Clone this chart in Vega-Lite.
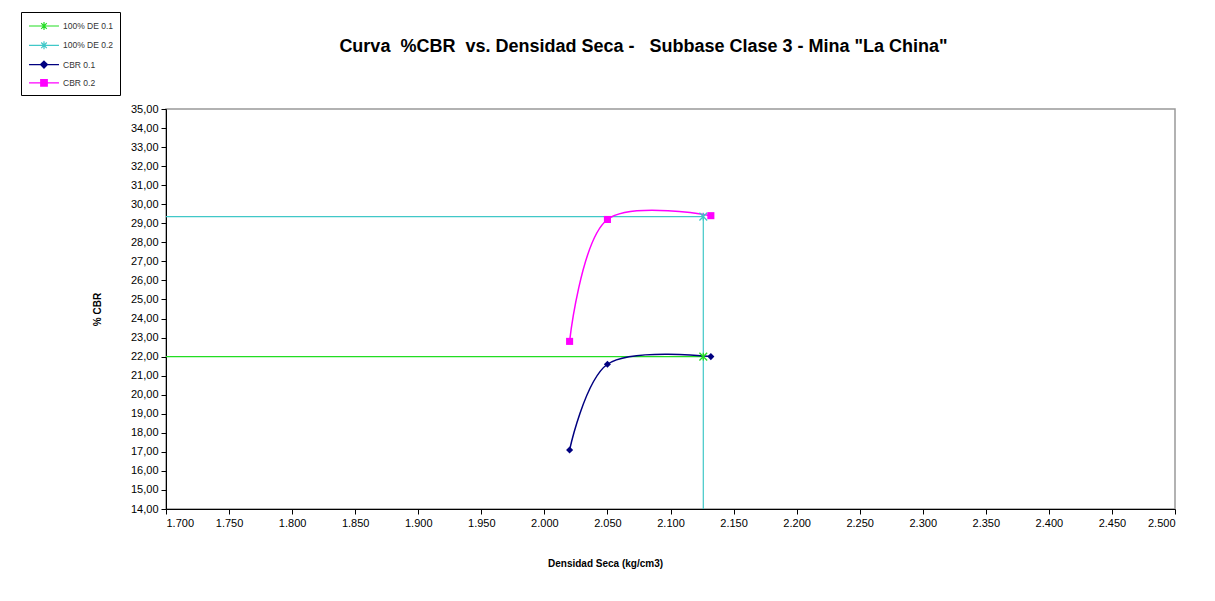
{
  "$schema": "https://vega.github.io/schema/vega-lite/v6.json",
  "autosize": {"type": "none"},
  "width": 1009,
  "height": 400,
  "padding": {"left": 166, "top": 109, "right": 40, "bottom": 92},
  "background": "white",
  "title": {
    "text": "Curva \u00a0%CBR \u00a0vs. Densidad Seca - \u00a0\u00a0Subbase Clase 3 - Mina \"La China\"",
    "font": "Liberation Sans",
    "fontSize": 18,
    "fontWeight": "bold",
    "color": "#000000",
    "anchor": "middle",
    "dx": -27,
    "offset": -44
  },
  "datasets": {
    "de": [
      {"series": "100% DE 0.1", "idx": 0, "densidad": 1.7, "cbr": 22.0},
      {"series": "100% DE 0.1", "idx": 1, "densidad": 2.126, "cbr": 22.0},
      {"series": "100% DE 0.2", "idx": 0, "densidad": 1.7, "cbr": 29.35},
      {"series": "100% DE 0.2", "idx": 1, "densidad": 2.126, "cbr": 29.35},
      {"series": "100% DE 0.2", "idx": 2, "densidad": 2.126, "cbr": 14.0}
    ],
    "cbr": [
      {"series": "CBR 0.1", "densidad": 2.02, "cbr": 17.1},
      {"series": "CBR 0.1", "densidad": 2.05, "cbr": 21.6},
      {"series": "CBR 0.1", "densidad": 2.132, "cbr": 22.0},
      {"series": "CBR 0.2", "densidad": 2.02, "cbr": 22.8},
      {"series": "CBR 0.2", "densidad": 2.05, "cbr": 29.2},
      {"series": "CBR 0.2", "densidad": 2.132, "cbr": 29.4}
    ],
    "legend": [
      {"series": "100% DE 0.1", "densidad": 2.126, "cbr": 22.0},
      {"series": "100% DE 0.2", "densidad": 2.126, "cbr": 29.35},
      {"series": "CBR 0.1", "densidad": 2.132, "cbr": 22.0},
      {"series": "CBR 0.2", "densidad": 2.132, "cbr": 29.4}
    ]
  },
  "encoding": {
    "x": {
      "field": "densidad", "type": "quantitative",
      "scale": {"domain": [1.7, 2.5], "nice": false, "zero": false},
      "axis": {
        "values": [1.7, 1.75, 1.8, 1.85, 1.9, 1.95, 2.0, 2.05, 2.1, 2.15, 2.2, 2.25, 2.3, 2.35, 2.4, 2.45, 2.5],
        "format": ".3f",
        "title": "Densidad Seca (kg/cm3)",
        "titleX": 439, "titleY": 54, "titleBaseline": "middle", "titleAnchor": "middle", "titleAlign": "center"
      }
    },
    "y": {
      "field": "cbr", "type": "quantitative",
      "scale": {"domain": [14, 35], "nice": false, "zero": false},
      "axis": {
        "values": [14,15,16,17,18,19,20,21,22,23,24,25,26,27,28,29,30,31,32,33,34,35],
        "labelExpr": "replace(format(datum.value, '.2f'), '.', ',')",
        "title": "% CBR",
        "titleX": -69, "titleY": 200, "titleBaseline": "middle", "titleAngle": -90, "titleAlign": "center"
      }
    },
    "color": {
      "field": "series", "type": "nominal", "legend": null,
      "scale": {
        "domain": ["100% DE 0.1", "100% DE 0.2", "CBR 0.1", "CBR 0.2"],
        "range": ["#22DD22", "#40C8C8", "#000080", "#FF00FF"]
      }
    }
  },
  "layer": [
    {
      "data": {"name": "de"},
      "mark": {"type": "line", "strokeWidth": 1.2, "interpolate": "linear"},
      "encoding": {"order": {"field": "idx", "type": "quantitative"}}
    },
    {
      "data": {"name": "cbr"},
      "mark": {"type": "line", "strokeWidth": 1.5, "interpolate": "catmull-rom"}
    },
    {
      "data": {"name": "de"},
      "transform": [{"filter": "datum.idx == 1"}],
      "mark": {"type": "point", "filled": false, "size": 60, "strokeWidth": 1.3, "opacity": 1},
      "encoding": {
        "shape": {"field": "series", "type": "nominal", "legend": null,
          "scale": {"domain": ["100% DE 0.1", "100% DE 0.2"], "range": ["M-1,-1L1,1M-1,1L1,-1M0,-1L0,1", "M-1,-1L1,1M-1,1L1,-1M0,-1L0,1"]}}
      }
    },
    {
      "data": {"name": "cbr"},
      "mark": {"type": "point", "filled": true, "size": 50, "opacity": 1},
      "encoding": {
        "shape": {"field": "series", "type": "nominal", "legend": null,
          "scale": {"domain": ["CBR 0.1", "CBR 0.2"], "range": ["diamond", "square"]}}
      }
    },
    {
      "data": {"name": "legend"},
      "mark": {"type": "point", "filled": false, "opacity": 0, "strokeWidth": 1.2},
      "encoding": {
        "stroke": {
          "field": "series", "type": "nominal",
          "scale": {
            "domain": ["100% DE 0.1", "100% DE 0.2", "CBR 0.1", "CBR 0.2"],
            "range": ["#22DD22", "#40C8C8", "#000080", "#FF00FF"]
          },
          "legend": {
            "title": null, "orient": "none", "legendX": -145, "legendY": -97,
            "strokeColor": "#000000", "padding": 6,
            "symbolSize": 196, "symbolOffset": 9, "symbolOpacity": 1, "symbolStrokeWidth": 1.2,
            "labelFont": "Liberation Sans", "labelFontSize": 8.5, "labelColor": "#333333",
            "labelOffset": 11, "rowPadding": 4.3
          }
        },
        "shape": {
          "field": "series", "type": "nominal",
          "scale": {
            "domain": ["100% DE 0.1", "100% DE 0.2", "CBR 0.1", "CBR 0.2"],
            "range": [
              "M-2.14,0L2.14,0M-0.4,-0.4L0.4,0.4M-0.4,0.4L0.4,-0.4M0,-0.57L0,0.57",
              "M-2.14,0L2.14,0M-0.4,-0.4L0.4,0.4M-0.4,0.4L0.4,-0.4M0,-0.57L0,0.57",
              "M-2.14,0L2.14,0M0,-0.5L0.5,0L0,0.5L-0.5,0ZM0,-0.33L0.33,0L0,0.33L-0.33,0ZM0,-0.16L0.16,0L0,0.16L-0.16,0Z",
              "M-2.14,0L2.14,0M-0.47,-0.47L0.47,-0.47L0.47,0.47L-0.47,0.47ZM-0.31,-0.31L0.31,-0.31L0.31,0.31L-0.31,0.31ZM-0.15,-0.15L0.15,-0.15L0.15,0.15L-0.15,0.15Z"
            ]
          },
          "legend": {
            "title": null, "orient": "none", "legendX": -145, "legendY": -97,
            "strokeColor": "#000000", "padding": 6,
            "symbolSize": 196, "symbolOffset": 9, "symbolOpacity": 1, "symbolStrokeWidth": 1.2,
            "labelFont": "Liberation Sans", "labelFontSize": 8.5, "labelColor": "#333333",
            "labelOffset": 11, "rowPadding": 4.3
          }
        }
      }
    }
  ],
  "resolve": {"scale": {"shape": "independent", "stroke": "independent"}},
  "config": {
    "view": {"stroke": "#999999", "strokeWidth": 1.5},
    "axis": {
      "grid": false,
      "domainColor": "#000000",
      "domainWidth": 1,
      "tickColor": "#000000",
      "tickSize": 5,
      "labelFont": "Liberation Sans",
      "labelFontSize": 11,
      "labelColor": "#000000",
      "labelPadding": 3,
      "titleFont": "Liberation Sans",
      "titleFontSize": 10,
      "titleFontWeight": "bold",
      "titleColor": "#000000"
    }
  }
}
